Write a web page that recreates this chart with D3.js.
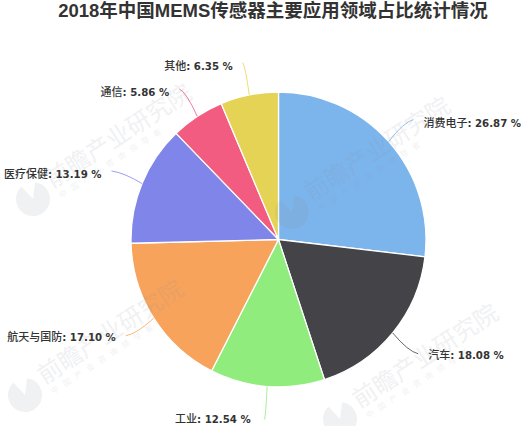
<!DOCTYPE html>
<html><head><meta charset="utf-8">
<script src="https://cdn.jsdelivr.net/npm/d3@7"></script>
<style>html,body{margin:0;padding:0;background:#fff}svg{display:block}text{font-family:"Noto Sans CJK SC","Liberation Sans",sans-serif}</style>
</head><body><div id="c"></div>
<script>
const categories = ["消费电子","汽车","工业","航天与国防","医疗保健","通信","其他"];
const shares = [26.87,18.08,12.54,17.10,13.19,5.86,6.35];
const colors = ["#7cb5ec","#434348","#90ed7d","#f7a35c","#8085e9","#f15c80","#e4d354"];
const titleText = "2018年中国MEMS传感器主要应用领域占比统计情况";
const brand = "前瞻产业研究院";
const brandSub = "中国产业咨询领导者";

const W=528,H=426,cx=278.5,cy=239.5,R=147.5;
const svg=d3.select("#c").append("svg").attr("width",W).attr("height",H);

svg.append("text").attr("x",273).attr("y",17).attr("text-anchor","middle")
  .attr("font-size",18.5).attr("font-weight",700).attr("fill","#333")
  .style("font-family",'"Liberation Sans","Noto Sans CJK SC",sans-serif').text(titleText);

const pie=d3.pie().value(d=>d).sort(null);
const arcs=pie(shares);
const arc=d3.arc().innerRadius(0).outerRadius(R);
const g=svg.append("g").attr("transform",`translate(${cx},${cy})`);
g.selectAll("path.s").data(arcs).join("path").attr("class","s")
  .attr("d",arc).attr("fill",(d,i)=>colors[i]).attr("stroke","#fff").attr("stroke-width",1.3);

const polar=(r,a)=>[r*Math.sin(a),-r*Math.cos(a)];
arcs.forEach((d,i)=>{
  const a=(d.startAngle+d.endAngle)/2;
  const [x0,y0]=polar(R,a), [x1,y1]=polar(R+33,a);
  const p=d3.path(); p.moveTo(x0,y0);
  p.quadraticCurveTo(x0+(x1-x0)*0.6,y0+(y1-y0)*0.88,x1,y1);
  g.append("path").attr("d",p.toString()).attr("fill","none")
    .attr("stroke",colors[i]).attr("stroke-width",0.8);
  const right=x1>0;
  const gap=i===2?14:10;
  const t=g.append("text").attr("x",x1+(right?gap:-gap)).attr("y",y1+(i===2?4:(y1<0?7:5)))
    .attr("text-anchor",right?"start":"end").attr("fill","#333");
  t.append("tspan").attr("font-size",11).attr("font-weight",500).text(categories[i]);
  t.append("tspan").attr("font-size",10.2).attr("font-weight",700).style("font-family",'"DejaVu Sans",sans-serif')
    .text(`: ${shares[i].toFixed(2)} %`);
});

// watermarks
const marks=[[25,395],[33,199],[340,419],[292,212]];
const logoArc=d3.arc().innerRadius(0).outerRadius(17).startAngle(0.7).endAngle(6.1);
marks.forEach(([x,y])=>{
  const m=svg.append("g").attr("transform",`translate(${x},${y}) rotate(-33)`).attr("opacity",0.12);
  m.append("path").attr("d",logoArc()).attr("fill","#8a8f99");
  m.append("text").attr("x",22).attr("y",2).attr("font-size",24).attr("fill","#8a8f99").text(brand);
  m.append("text").attr("x",24).attr("y",15).attr("font-size",8).attr("letter-spacing",6).attr("fill","#8a8f99").text(brandSub);
});
</script></body></html>
